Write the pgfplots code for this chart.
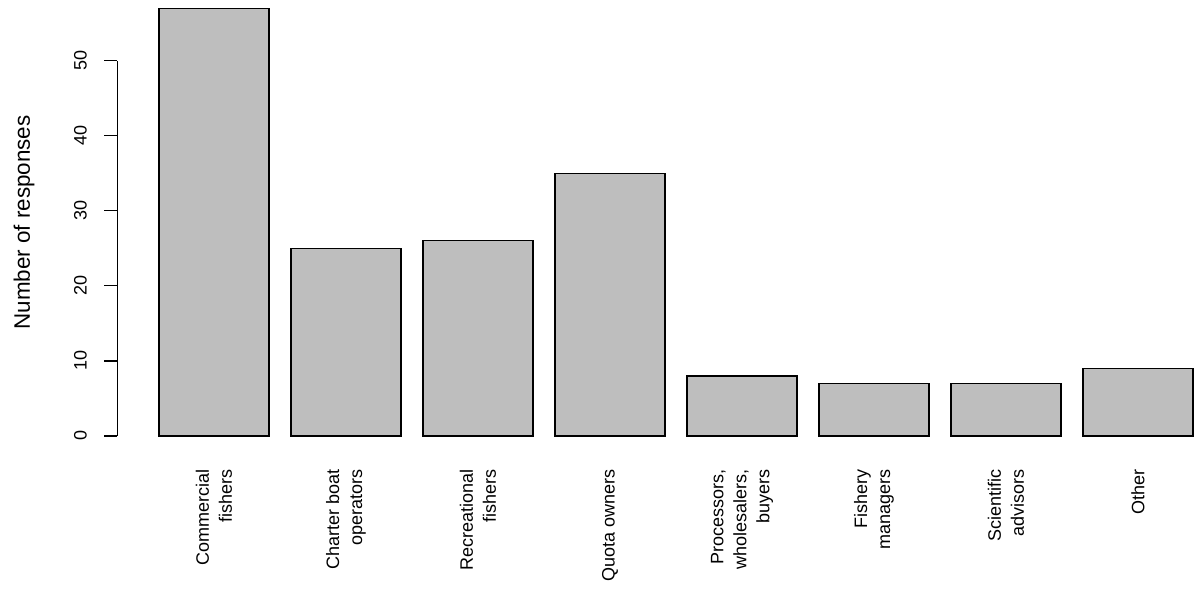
\documentclass[border=0pt]{standalone}
\usepackage{fontspec}
\setmainfont{Liberation Sans}
\usepackage{pgfplots}
\pgfplotsset{compat=1.18}

\definecolor{bargray}{RGB}{190,190,190}

\begin{document}
\begin{tikzpicture}
\begin{axis}[
  x=66pt, y=3.753pt,
  xmin=0.2674, xmax=8.47,
  ymin=0, ymax=50,
  clip=false,
  axis y line*=left,
  axis x line*=bottom,
  x axis line style={draw=none},
  y axis line style={line width=0.6pt},
  xtick={1,...,8},
  xtick style={draw=none},
  xticklabels={
    Commercial\\fishers,
    Charter boat\\operators,
    Recreational\\fishers,
    Quota owners,
    {Processors,\\wholesalers,\\buyers},
    Fishery\\managers,
    Scientific\\advisors,
    Other},
  xticklabel style={yshift=-10pt, rotate=90, anchor=east, align=right,
    inner sep=0pt, font=\fontsize{9}{11.5}\selectfont},
  ytick={0,10,...,50},
  tick align=outside,
  major tick length=6.5pt,
  ytick style={line width=0.6pt, black},
  yticklabel style={xshift=-8.6pt, rotate=90, anchor=south, inner sep=0pt,
    font=\fontsize{9}{11}\selectfont},
  /pgf/number format/assume math mode=true,
  ylabel={Number of responses},
  ylabel style={at={(axis description cs:-0.0862,0.569)}, anchor=center,
    font=\fontsize{11.2}{13}\selectfont},
]
\addplot[ybar, bar width=55pt, bar shift=0pt, fill=bargray, draw=black, line width=0.6pt]
  coordinates {(1,57) (2,25) (3,26) (4,35) (5,8) (6,7) (7,7) (8,9)};
\coordinate (bbl) at (axis cs:-0.6212,-21.18);
\coordinate (btr) at (axis cs:8.4697,58.087);
\end{axis}
\path (bbl) rectangle (btr);
\end{tikzpicture}
\end{document}
